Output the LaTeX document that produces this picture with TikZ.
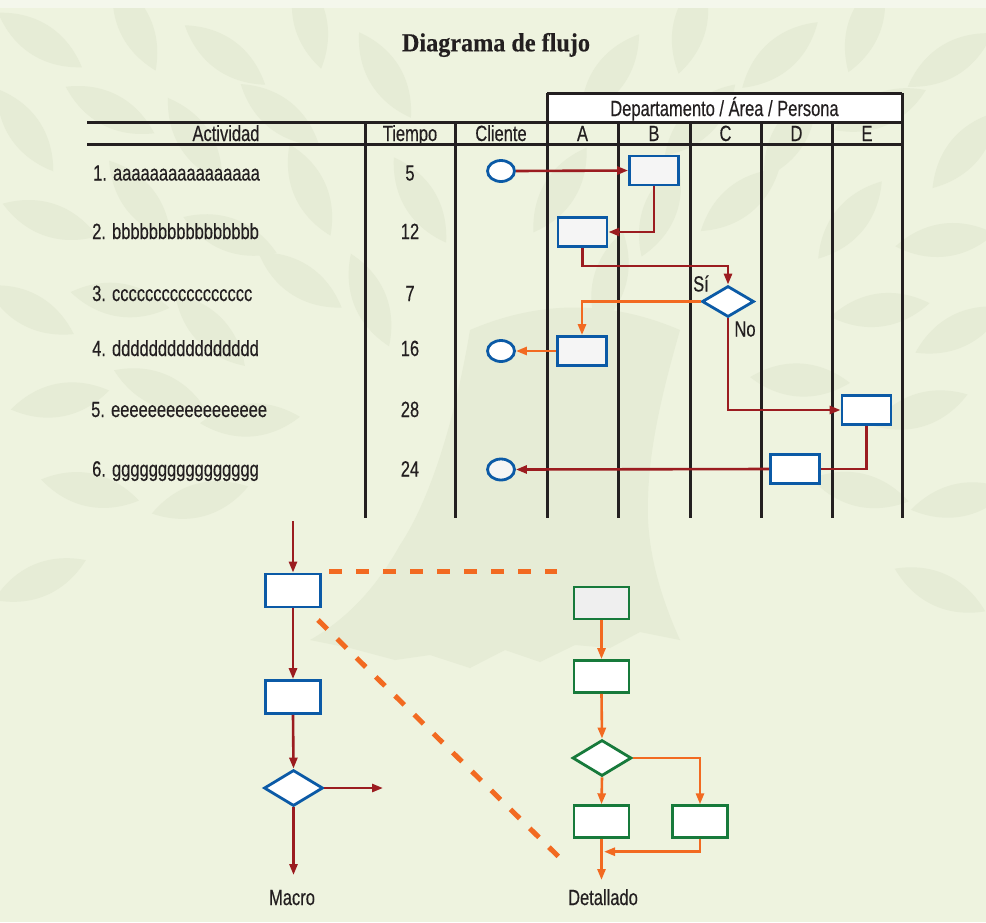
\documentclass[tikz,border=0pt]{standalone}
\usepackage{fontspec}
\setmainfont{Liberation Sans}[FakeStretch=0.75, FakeBold=0.35]
\newfontfamily\titlefont{Liberation Serif}[FakeStretch=0.93, FakeBold=0.3]
\usetikzlibrary{arrows.meta,shapes.geometric}

\definecolor{bg}{HTML}{EEF3DF}
\definecolor{bgtop}{HTML}{F4F7EC}
\definecolor{leaf}{HTML}{E6ECD6}
\definecolor{ink}{HTML}{231F20}
\definecolor{flowred}{HTML}{9B1C20}
\definecolor{flowblue}{HTML}{0B5AA6}
\definecolor{floworange}{HTML}{F26A21}
\definecolor{flowgreen}{HTML}{177A3B}
\definecolor{boxfill}{HTML}{F5F5F5}
\definecolor{greyfill}{HTML}{EFEFEF}

\tikzset{
  gridline/.style={draw=ink, line width=3pt},
  lbl/.style={font=\fontsize{22}{24}\selectfont, text=ink, inner sep=0pt, anchor=base},
  bluebox/.style={rectangle, draw=flowblue, line width=2.8pt, fill=boxfill,
    minimum width=49pt, minimum height=29pt, inner sep=0pt},
  bigbluebox/.style={bluebox, fill=white, minimum width=55pt, minimum height=33pt},
  greenbox/.style={rectangle, draw=flowgreen, line width=2.8pt, fill=white,
    minimum width=55pt, minimum height=32pt, inner sep=0pt},
  bluedia/.style={diamond, draw=flowblue, line width=2.8pt, fill=white,
    minimum width=52pt, minimum height=31pt, inner sep=0pt},
  terminal/.style={ellipse, draw=flowblue, line width=2.8pt, fill=boxfill,
    minimum width=27pt, minimum height=21pt, inner sep=0pt},
  tip/.style={-{Triangle[length=11pt,width=8pt]}},
  redarrow/.style={draw=flowred, line width=2.6pt, tip},
  redline/.style={draw=flowred, line width=2.6pt},
  orangearrow/.style={draw=floworange, line width=2.6pt, tip},
  zoomdash/.style={draw=floworange, line width=5pt, dash pattern=on 13pt off 14pt},
  leafshape/.style={fill=leaf, draw=none}
}

\begin{document}
\begin{tikzpicture}[x=1pt,y=-1pt]
% page background
\fill[bg] (0,0) rectangle (986,922);
\useasboundingbox (0,0) rectangle (986,922);

% faint tree in the background: trunk with roots
\fill[leafshape] (470,330) .. controls (455,420) and (430,500) .. (400,545)
  .. controls (375,590) and (345,620) .. (310,640)
  -- (350,648) -- (395,660) -- (430,655) -- (470,668) -- (505,650)
  -- (540,662) -- (575,645) -- (610,648) -- (640,632) -- (680,640)
  .. controls (662,600) and (650,560) .. (648,520)
  .. controls (646,460) and (660,400) .. (680,330)
  .. controls (610,300) and (540,300) .. cycle;
% canopy leaves, pointing away from the top of the trunk
\foreach \px/\py/\jit in {
  40/40/10, 135/25/-15, 225/55/20, 310/20/-10, 385/75/15, 610/75/-20, 690/25/10,
  780/55/-15, 865/25/20, 950/60/-10,
  25/130/-20, 110/110/15, 195/140/-10, 280/115/20, 700/120/-15, 790/135/10,
  880/110/-20, 965/150/15,
  50/220/10, 140/200/-15, 230/235/20, 310/190/-10, 420/200/15, 560/190/-20,
  660/210/10, 740/200/-10, 850/220/15, 945/240/-20,
  30/310/-10, 120/300/15, 210/330/-20, 300/280/10, 370/300/-15, 610/280/15,
  880/310/-15, 960/330/10,
  60/400/20, 160/390/-10, 250/420/15, 800/380/-20, 920/410/10,
  90/490/-15, 200/500/10, 860/490/-10, 960/500/15, 40/580/10, 940/590/-10}
{
  \pgfmathsetmacro\ang{atan2(470-\py,\px-500)+\jit}
  \fill[leafshape, shift={(\px,\py)}, rotate=\ang]
    (-50,0) .. controls (-18,22) and (18,22) .. (50,0)
    .. controls (18,-22) and (-18,-22) .. cycle;
}
\fill[bgtop] (0,0) rectangle (986,8);

% title
\node[text=ink, inner sep=0pt, font=\titlefont\bfseries\fontsize{26}{28}\selectfont] (title) at (496,45) {Diagrama de flujo};

% ---------- table grid ----------
\fill[white] (547,93) rectangle (902,122);
\draw[gridline] (547,93) -- (902,93);
\draw[gridline] (87,122) -- (902,122);
\draw[gridline] (87,144) -- (902,144);
\draw[gridline] (365,122) -- (365,518);
\draw[gridline] (455.5,122) -- (455.5,518);
\draw[gridline] (547,93) -- (547,518);
\draw[gridline] (618,122) -- (618,518);
\draw[gridline] (690,122) -- (690,518);
\draw[gridline] (761,122) -- (761,518);
\draw[gridline] (832,122) -- (832,518);
\draw[gridline] (902,93) -- (902,518);

% header labels
\node[lbl] (hdept) at (724.5,116) {Departamento / Área / Persona};
\node[lbl] (hact)  at (226,141) {Actividad};
\node[lbl] (htime) at (410,141) {Tiempo};
\node[lbl] (hcli)  at (501,141) {Cliente};
\node[lbl] (hA) at (582.5,141) {A};
\node[lbl] (hB) at (654,141) {B};
\node[lbl] (hC) at (725.5,141) {C};
\node[lbl] (hD) at (796.5,141) {D};
\node[lbl] (hE) at (867,141) {E};

% activity rows
\node[lbl, anchor=base west] (act1) at (93,180.5) {1. aaaaaaaaaaaaaaaa};
\node[lbl, anchor=base west] (act2) at (92,239) {2. bbbbbbbbbbbbbbbb};
\node[lbl, anchor=base west] (act3) at (92,301) {3. ccccccccccccccccc};
\node[lbl, anchor=base west] (act4) at (92,356) {4. dddddddddddddddd};
\node[lbl, anchor=base west] (act5) at (91,417) {5. eeeeeeeeeeeeeeeee};
\node[lbl, anchor=base west] (act6) at (92,476.5) {6. gggggggggggggggg};

\node[lbl] (t1) at (410,180.5) {5};
\node[lbl] (t2) at (410,239) {12};
\node[lbl] (t3) at (410,301) {7};
\node[lbl] (t4) at (410,356) {16};
\node[lbl] (t5) at (410,417) {28};
\node[lbl] (t6) at (410,476.5) {24};

% ---------- process symbols ----------
\node[terminal, fill=white] (c1) at (501,171) {};
\node[bluebox]  (bB) at (654,170.5) {};
\node[bluebox]  (bA2) at (582.5,232) {};
\node[bluedia]  (dC) at (728,301.5) {};
\node[bluebox]  (bA4) at (582,351) {};
\node[terminal, fill=white] (c4) at (501,351) {};
\node[bluebox, fill=white]  (bE) at (866.5,410) {};
\node[bluebox, fill=white]  (bD) at (795,469) {};
\node[terminal] (c6) at (501,469.5) {};

\node[lbl] (yes) at (701,291.5) {Sí};
\node[lbl] (no)  at (745,336.5) {No};

\coordinate (k1) at (728,266);

% ---------- process connectors ----------
\draw[redarrow] (c1.east) -- (bB.west);
\draw[redarrow] (bB.south) |- (bA2.east);
\draw[redarrow] (bA2.south) |- (k1) -- (dC.north);
\draw[orangearrow] (dC.west) -| (bA4.north);
\draw[orangearrow] (bA4.west) -- (c4.east);
\draw[redarrow] (dC.south) |- (bE.west);
\draw[redline] (bE.south) |- (bD.east);
\draw[redarrow] (bD.west) -- (c6.east);

% ---------- macro flow ----------
\coordinate (m0) at (293,521);
\node[bigbluebox] (m1) at (293,590.5) {};
\node[bigbluebox] (m2) at (293,697) {};
\node[bluedia, minimum width=59pt, minimum height=36pt] (md) at (293.5,788) {};
\coordinate (mr) at (383,788);
\coordinate (mb) at (293.5,875);
\node[lbl] (macro) at (292,905) {Macro};

\draw[redarrow] (m0) -- (m1.north);
\draw[redarrow] (m1.south) -- (m2.north);
\draw[redarrow] (m2.south) -- (md.north);
\draw[redarrow] (md.east) -- (mr);
\draw[redarrow] (md.south) -- (mb);

% zoom guides
\coordinate (z1) at (329,571);
\coordinate (z2) at (557,571);
\coordinate (z3) at (318,620);
\coordinate (z4) at (565,863);
\draw[zoomdash] (z1) -- (z2);
\draw[zoomdash] (z3) -- (z4);

% ---------- detailed flow ----------
\node[greenbox, fill=greyfill] (d1) at (601.5,603) {};
\node[greenbox] (d2) at (601.5,676.5) {};
\node[diamond, draw=flowgreen, line width=2.8pt, fill=white, minimum width=59pt, minimum height=36pt, inner sep=0pt] (dd) at (602,758) {};
\node[greenbox] (d3) at (601.5,821.7) {};
\node[greenbox] (d4) at (700,821.7) {};
\coordinate (j1) at (604,851.7);
\coordinate (de) at (601.5,880);
\node[lbl] (detail) at (603,905) {Detallado};

\draw[orangearrow] (d1.south) -- (d2.north);
\draw[orangearrow] (d2.south) -- (dd.north);
\draw[orangearrow] (dd.south) -- (d3.north);
\draw[orangearrow] (dd.east) -| (d4.north);
\draw[orangearrow] (d4.south) |- (j1);
\draw[orangearrow] (d3.south) -- (de);
\end{tikzpicture}
\end{document}
